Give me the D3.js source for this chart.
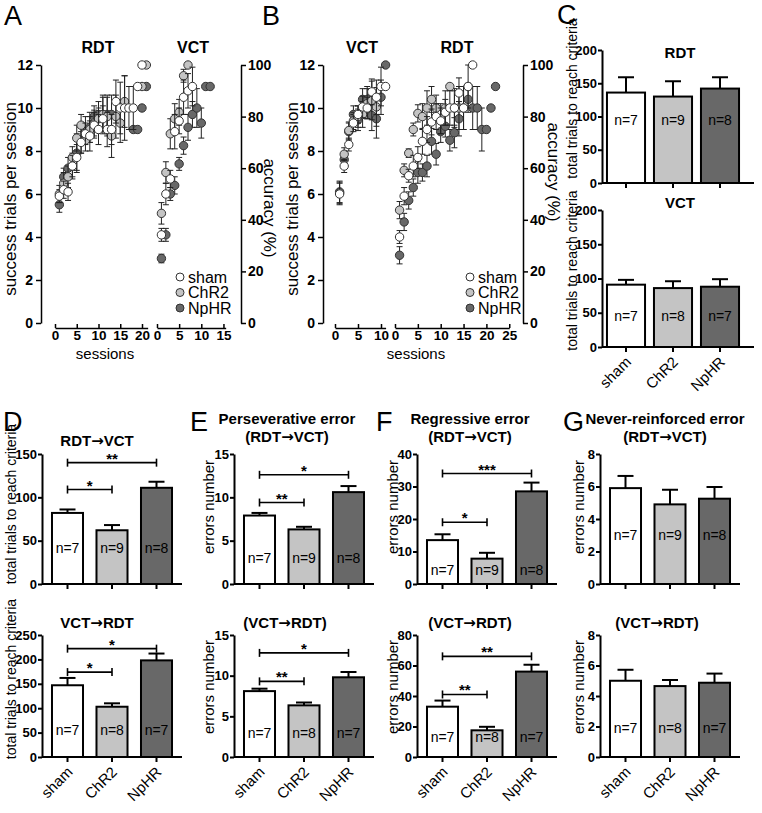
<!DOCTYPE html>
<html>
<head>
<meta charset="utf-8">
<script src="https://cdn.jsdelivr.net/npm/d3@7"></script>
<style>
  body { margin: 0; background: #fff; }
</style>
</head>
<body>
<svg id="fig" width="762" height="813"></svg>
<script>
var FONT = '"Liberation Sans", Arial, Helvetica, sans-serif';
var groups = ["sham", "ChR2", "NpHR"];
var fills = { sham: "#ffffff", ChR2: "#c4c4c4", NpHR: "#686868" };

// ---- panel A : RDT first, then VCT (success trials per session, session 1..n)
var aRdtSham     = [5.9, 6.2, 6.1, 7.3, 7.7, 8.4, 8.8, 8.7, 9.2, 9.0, 9.5, 9.0, 9.0, 10.3, 10.0, 10.0, 10.0, 10.0, 11.0, 12.0];
var aRdtShamSem  = [0.3, 0.4, 0.4, 0.5, 0.6, 0.5, 0.5, 0.7, 0.6, 0.7, 0.6, 0.8, 0.7, 1.0, 1.2, 1.5, 1.0, 1.0, 0, 0];
var aRdtChr2     = [6.0, 6.5, 6.8, 7.7, 8.6, 9.2, 8.5, 9.0, 9.3, 9.5, 9.7, 9.6, 8.7, 9.6, 9.3, 10.3, null, null, null, 11.0, 12.0];
var aRdtChr2Sem  = [0.4, 0.5, 0.5, 0.5, 0.6, 0.5, 0.5, 0.6, 0.6, 0.5, 0.8, 0.9, 1.0, 1.0, 0.9, 1.2, null, null, null, 0, 0];
var aRdtNphr     = [5.5, 6.8, 7.2, 7.3, 7.9, 8.5, 9.0, 9.1, 9.6, 9.7, 9.7, 9.7, 9.7, null, null, null, null, 9.0, 9.0, 10.0, 11.0];
var aRdtNphrSem  = [0.35, 0.4, 0.5, 0.6, 0.9, 0.6, 0.6, 0.7, 0.5, 0.6, 0.9, 0.9, 0.9, null, null, null, null, 0, 0, 0, 0];

var aVctSham     = [4.1, 6.0, 6.7, 8.9, 9.4, 10.5, 10.8, 11.0];
var aVctShamSem  = [0.3, 0.5, 0.4, 0.8, 0.6, 0.8, 0.8, 0.9];
var aVctChr2     = [5.1, 7.0, 8.8, 9.5, 9.8, 11.5, 12.0];
var aVctChr2Sem  = [0.5, 0.5, 0.7, 0.7, 0.6, 0.3, 0];
var aVctNphr     = [3.0, 4.1, 6.0, 6.4, 7.4, 8.25, 9.1, 9.7, 10.0, 9.3, 11.0, 11.0];
var aVctNphrSem  = [0.2, 0.3, 0.3, 0.4, 0.3, 0.4, 0.6, 0.6, 0.9, 0.7, 0, 0];

// ---- panel B : VCT first, then RDT
var bVctSham     = [6.0, 7.3, 8.3, 9.3, 9.7, 10.05, 10.0, 10.75, 10.5, 11.0, 11.0];
var bVctShamSem  = [0.5, 0.3, 0.3, 0.4, 0.4, 0.5, 0.5, 0.6, 0.8, 0.9, 0];
var bVctChr2     = [6.05, 7.85, 8.95, 9.4, 9.6, 9.7, 10.2, 10.35, 10.05];
var bVctChr2Sem  = [0.5, 0.3, 0.4, 0.4, 0.5, 0.6, 0.7, 0.9, 0.9];
var bVctNphr     = [6.1, 7.6, 8.9, 9.7, 9.45, 10.4, 10.4, 9.65, 9.5, 10.5, 12.0];
var bVctNphrSem  = [0.5, 0.3, 0.4, 0.4, 0.5, 0.5, 0.6, 0.7, 0.9, 0.8, 0];

var bRdtSham     = [4.0, 5.9, 6.85, 7.3, 7.7, 8.45, 9.0, 9.35, 9.6, 9.4, 9.8, 10.0, 10.0, 10.7, 10.0, 11.0, 12.0];
var bRdtShamSem  = [0.3, 0.4, 0.3, 0.5, 0.5, 0.6, 0.6, 0.6, 0.6, 0.6, 0.6, 0.8, 0.8, 0.7, 1.0, 1.0, 0];
var bRdtChr2     = [5.25, 7.1, 7.9, 9.0, 9.75, 9.6, 10.0, 10.4, 10.0, 9.5, 10.0, 11.0, 10.0, 10.0, 10.0, 11.0];
var bRdtChr2Sem  = [0.4, 0.3, 0.2, 0.3, 0.4, 0.6, 0.8, 0.6, 0.6, 0.7, 0.8, 0, 0.9, 1.0, 1.0, 0];
var bRdtNphr     = [3.15, 4.7, 5.7, 6.3, 7.0, 7.0, 7.3, 8.45, 7.85, 8.9, 9.15, 8.5, 8.85, 9.5, null, 10.4, 10.0, 10.0, 9.0, 9.0, 10.0, 11.0];
var bRdtNphrSem  = [0.4, 0.4, 0.4, 0.4, 0.5, 0.4, 0.5, 0.6, 0.5, 0.5, 0.5, 0.5, 0.7, 0.8, null, 0.6, 1.0, 1.0, 1.0, 0, 0, 0];

var successTicks  = [0, 2, 4, 6, 8, 10, 12];
var accuracyTicks = [0, 20, 40, 60, 80, 100];

// ---- bar charts: mean, sem, n per group (sham, ChR2, NpHR)
var cRdtMean = [136, 130, 142],  cRdtSem = [23, 23, 17],   cRdtN = [7, 9, 8];
var cVctMean = [91, 86, 88],     cVctSem = [7, 10, 11],    cVctN = [7, 8, 7];
var dRvMean  = [82, 62, 111],    dRvSem  = [4, 6, 7],      dRvN  = [7, 9, 8];
var dVrMean  = [147, 103, 198],  dVrSem  = [15, 7, 14],    dVrN  = [7, 8, 7];
var eRvMean  = [7.9, 6.3, 10.6], eRvSem  = [0.3, 0.3, 0.7], eRvN = [7, 9, 8];
var eVrMean  = [8.1, 6.35, 9.8], eVrSem  = [0.3, 0.35, 0.65], eVrN = [7, 8, 7];
var fRvMean  = [13.5, 7.8, 28.5], fRvSem = [1.8, 1.8, 2.7], fRvN = [7, 9, 8];
var fVrMean  = [33, 17.5, 56],   fVrSem  = [4, 2.3, 4.5],  fVrN  = [7, 8, 7];
var gRvMean  = [5.9, 4.9, 5.25], gRvSem  = [0.75, 0.9, 0.72], gRvN = [7, 9, 8];
var gVrMean  = [5.0, 4.65, 4.87], gVrSem = [0.72, 0.4, 0.6], gVrN = [7, 8, 7];

// significance brackets: [from group, to group, height in data units, stars]
var dRvSig = [[0, 1, 109, "*"], [0, 2, 140, "**"]];
var dVrSig = [[0, 1, 174, "*"], [0, 2, 222, "*"]];
var eRvSig = [[0, 1, 9.4, "**"], [0, 2, 12.6, "*"]];
var eVrSig = [[0, 1, 9.3, "**"], [0, 2, 12.8, "*"]];
var fRvSig = [[0, 1, 19, "*"], [0, 2, 34, "***"]];
var fVrSig = [[0, 1, 41, "**"], [0, 2, 66, "**"]];


var svg = d3.select("#fig");
svg.append("rect").attr("width", 762).attr("height", 813).attr("fill", "#fff");

function txt(x, y, s, size, weight, anchor, rot) {
  var t = svg.append("text")
    .attr("x", x).attr("y", y)
    .attr("text-anchor", anchor || "start")
    .style("font-family", FONT)
    .style("font-size", size + "px")
    .style("font-weight", weight || "normal");
  // titles with an arrow: draw the arrow in DejaVu so it is wide and heavy like the original
  var parts = s.split("\u2192");
  if (parts.length === 2) {
    t.append("tspan").text(parts[0]);
    t.append("tspan").style("font-family", '"DejaVu Sans", sans-serif').text("\u2192");
    t.append("tspan").text(parts[1]);
  } else {
    t.text(s);
  }
  if (rot) t.attr("transform", "rotate(" + rot + "," + x + "," + y + ")");
  return t;
}

function styleAxis(g, size, sw) {
  g.selectAll("path.domain").attr("stroke", "#000").attr("stroke-width", sw);
  g.selectAll(".tick line").attr("stroke", "#000").attr("stroke-width", sw);
  g.selectAll(".tick text").attr("fill", "#000")
    .style("font-family", FONT).style("font-size", size + "px").style("font-weight", "bold");
}

function series(m, e) {
  var out = [];
  m.forEach(function(v, i) { if (v != null) out.push({ s: i + 1, m: v, e: e[i] || 0 }); });
  return out;
}

function drawScatter(p) {
  var y = d3.scaleLinear().domain([0, 12]).range([323, 65]);
  var yAcc = d3.scaleLinear().domain([0, 100]).range([323, 65]);

  var gy = svg.append("g").attr("transform", "translate(" + p.yAxisX + ",0)")
    .call(d3.axisLeft(y).tickValues(successTicks).tickSize(5).tickSizeOuter(0).tickPadding(3));
  styleAxis(gy, 14, 1.5);

  var ga = svg.append("g").attr("transform", "translate(" + p.accAxisX + ",0)")
    .call(d3.axisRight(yAcc).tickValues(accuracyTicks).tickSize(5).tickSizeOuter(0).tickPadding(2));
  styleAxis(ga, 14, 1.5);

  txt(p.yLabelX, 199, "success trials per session", 17, "normal", "middle", -90);
  txt(p.accLabelX, p.accLabelY, "accuracy (%)", 17, "normal", "middle", 90);

  p.segments.forEach(function(seg) {
    var x = d3.scaleLinear().domain([0, seg.max]).range(seg.range);
    var gx = svg.append("g").attr("transform", "translate(0,328)")
      .call(d3.axisBottom(x).tickValues(seg.ticks).tickSize(-4).tickSizeOuter(0).tickPadding(2));
    styleAxis(gx, 13.5, 1.5);

    txt(seg.titleX, 53, seg.title, 16, "bold", "middle");

    ["NpHR", "ChR2", "sham"].forEach(function(gname) {
      var d = seg.data[gname];
      var g = svg.append("g");
      d.forEach(function(pt) {
        var cx = x(pt.s);
        if (pt.e > 0) {
          g.append("line").attr("x1", cx).attr("x2", cx)
            .attr("y1", y(pt.m - pt.e)).attr("y2", y(pt.m + pt.e))
            .attr("stroke", "#222").attr("stroke-width", 1);
          [pt.m - pt.e, pt.m + pt.e].forEach(function(v) {
            g.append("line").attr("x1", cx - 3).attr("x2", cx + 3)
              .attr("y1", y(v)).attr("y2", y(v))
              .attr("stroke", "#222").attr("stroke-width", 1);
          });
        }
      });
      g.selectAll("circle").data(d).enter().append("circle")
        .attr("cx", function(pt) { return x(pt.s); })
        .attr("cy", function(pt) { return y(pt.m); })
        .attr("r", 4.2)
        .attr("fill", fills[gname])
        .attr("stroke", "#333").attr("stroke-width", 1);
    });
  });

  txt(p.sessionsX, 359, "sessions", 15, "normal", "middle");

  groups.forEach(function(gname, i) {
    var ly = 277 + i * 15.5;
    svg.append("circle").attr("cx", p.legendX).attr("cy", ly).attr("r", 4)
      .attr("fill", fills[gname]).attr("stroke", "#333").attr("stroke-width", 1);
    txt(p.legendX + 8, ly + 5.5, gname, 16, "normal", "start");
  });
}

drawScatter({
  yAxisX: 41, accAxisX: 241, yLabelX: 16, accLabelX: 264, accLabelY: 208,
  legendX: 180, sessionsX: 105,
  segments: [
    { max: 21.3, range: [55, 55 + 21.3 * 4.35], ticks: [0, 5, 10, 15, 20], title: "RDT", titleX: 98,
      data: { sham: series(aRdtSham, aRdtShamSem), ChR2: series(aRdtChr2, aRdtChr2Sem), NpHR: series(aRdtNphr, aRdtNphrSem) } },
    { max: 15.5, range: [157, 157 + 15.5 * 4.43], ticks: [0, 5, 10, 15], title: "VCT", titleX: 193,
      data: { sham: series(aVctSham, aVctShamSem), ChR2: series(aVctChr2, aVctChr2Sem), NpHR: series(aVctNphr, aVctNphrSem) } }
  ]
});

drawScatter({
  yAxisX: 323, accAxisX: 523, yLabelX: 298, accLabelX: 548, accLabelY: 172,
  legendX: 470, sessionsX: 416,
  segments: [
    { max: 11, range: [335, 335 + 11 * 4.6], ticks: [0, 5, 10], title: "VCT", titleX: 362,
      data: { sham: series(bVctSham, bVctShamSem), ChR2: series(bVctChr2, bVctChr2Sem), NpHR: series(bVctNphr, bVctNphrSem) } },
    { max: 25, range: [395, 395 + 25 * 4.57], ticks: [0, 5, 10, 15, 20, 25], title: "RDT", titleX: 457,
      data: { sham: series(bRdtSham, bRdtShamSem), ChR2: series(bRdtChr2, bRdtChr2Sem), NpHR: series(bRdtNphr, bRdtNphrSem) } }
  ]
});

function drawBars(p) {
  var y = d3.scaleLinear().domain([0, p.max]).range([p.base, p.top]);
  var x = d3.scaleBand().domain(groups)
    .range([p.axisX + p.offset, p.axisX + p.offset + 3 * p.step])
    .paddingInner(p.pad).paddingOuter(p.pad / 2);

  // bars
  svg.append("g").selectAll("rect").data(groups).enter().append("rect")
    .attr("x", function(g) { return x(g); })
    .attr("y", function(g, i) { return y(p.mean[i]); })
    .attr("width", x.bandwidth())
    .attr("height", function(g, i) { return p.base - y(p.mean[i]); })
    .attr("fill", function(g) { return fills[g]; })
    .attr("stroke", "#000").attr("stroke-width", 2);

  // sem, upper side only
  groups.forEach(function(g, i) {
    var cx = x(g) + x.bandwidth() / 2;
    var top = y(p.mean[i] + p.sem[i]);
    svg.append("line").attr("x1", cx).attr("x2", cx).attr("y1", y(p.mean[i])).attr("y2", top)
      .attr("stroke", "#000").attr("stroke-width", 2);
    svg.append("line").attr("x1", cx - 8).attr("x2", cx + 8).attr("y1", top).attr("y2", top)
      .attr("stroke", "#000").attr("stroke-width", 2);
    txt(cx, p.base - p.nOff + 5, "n=" + p.n[i], 14, "normal", "middle");
  });

  var gy = svg.append("g").attr("transform", "translate(" + p.axisX + ",0)")
    .call(d3.axisLeft(y).ticks(p.max / p.tick).tickSize(4).tickSizeOuter(0).tickPadding(1));
  styleAxis(gy, 13, 2);

  svg.append("line").attr("x1", p.axisX).attr("x2", p.axisX + p.len)
    .attr("y1", p.base).attr("y2", p.base).attr("stroke", "#000").attr("stroke-width", 2);
  groups.forEach(function(g) {
    var cx = x(g) + x.bandwidth() / 2;
    svg.append("line").attr("x1", cx).attr("x2", cx).attr("y1", p.base).attr("y2", p.base + 5)
      .attr("stroke", "#000").attr("stroke-width", 2);
    if (p.cats) {
      txt(cx + 6, p.base + 16, g, 15, "normal", "end", -45);
    }
  });

  (p.sig || []).forEach(function(s) {
    var x1 = x(groups[s[0]]) + x.bandwidth() / 2;
    var x2 = x(groups[s[1]]) + x.bandwidth() / 2;
    var yy = y(s[2]);
    svg.append("line").attr("x1", x1).attr("x2", x2).attr("y1", yy).attr("y2", yy)
      .attr("stroke", "#000").attr("stroke-width", 1.6);
    [x1, x2].forEach(function(xx) {
      svg.append("line").attr("x1", xx).attr("x2", xx).attr("y1", yy - 4).attr("y2", yy + 4)
        .attr("stroke", "#000").attr("stroke-width", 1.6);
    });
    txt((x1 + x2) / 2, yy + 1, s[3], 15, "bold", "middle");
  });

  p.title.forEach(function(line, i) {
    txt(p.titleX, p.titleY + i * 18, line, 15, "bold", "middle");
  });

  txt(p.labelX, (p.base + p.top) / 2 + p.labelShift, p.label, p.labelSize || 15, "normal", "middle", -90);
}

var TRIAL = "total trials to reach criteria";
var ERR = "errors number";
var std = { offset: 3.25, step: 44.5, pad: 0.303, len: 140 };

function panel(extra) { return Object.assign({}, std, extra); }

// C
drawBars({ axisX: 602, offset: 0.5, step: 47, pad: 0.19, len: 152, top: 50, base: 183, max: 200, tick: 50,
  mean: cRdtMean, sem: cRdtSem, n: cRdtN, nOff: 63, cats: false,
  title: ["RDT"], titleX: 680, titleY: 58, label: TRIAL, labelX: 577, labelSize: 14, labelShift: -18 });
drawBars({ axisX: 602, offset: 0.5, step: 47, pad: 0.19, len: 152, top: 210, base: 347, max: 200, tick: 50,
  mean: cVctMean, sem: cVctSem, n: cVctN, nOff: 31, cats: true,
  title: ["VCT"], titleX: 680, titleY: 208, label: TRIAL, labelX: 577, labelSize: 14, labelShift: -8 });

// D
drawBars(panel({ axisX: 42, top: 454, base: 584, max: 150, tick: 50,
  mean: dRvMean, sem: dRvSem, n: dRvN, nOff: 36, sig: dRvSig, cats: false,
  title: ["RDT\u2192VCT"], titleX: 97, titleY: 446, label: TRIAL, labelX: 16, labelSize: 14, labelShift: -15 }));
drawBars(panel({ axisX: 42, top: 635, base: 757, max: 250, tick: 50,
  mean: dVrMean, sem: dVrSem, n: dVrN, nOff: 27, sig: dVrSig, cats: true,
  title: ["VCT\u2192RDT"], titleX: 97, titleY: 628, label: TRIAL, labelX: 16, labelSize: 14, labelShift: -17 }));

// E
drawBars(panel({ axisX: 234, top: 454, base: 584, max: 15, tick: 5,
  mean: eRvMean, sem: eRvSem, n: eRvN, nOff: 26, sig: eRvSig, cats: false,
  title: ["Perseverative error", "(RDT\u2192VCT)"], titleX: 287, titleY: 424, label: ERR, labelX: 214, labelShift: -12 }));
drawBars(panel({ axisX: 234, top: 635, base: 757, max: 15, tick: 5,
  mean: eVrMean, sem: eVrSem, n: eVrN, nOff: 24, sig: eVrSig, cats: true,
  title: ["(VCT\u2192RDT)"], titleX: 285, titleY: 628, label: ERR, labelX: 214, labelShift: -9 }));

// F
drawBars(panel({ axisX: 417, top: 454, base: 584, max: 40, tick: 10,
  mean: fRvMean, sem: fRvSem, n: fRvN, nOff: 14, sig: fRvSig, cats: false,
  title: ["Regressive error", "(RDT\u2192VCT)"], titleX: 470, titleY: 424, label: ERR, labelX: 398, labelShift: -12 }));
drawBars(panel({ axisX: 417, top: 635, base: 757, max: 80, tick: 20,
  mean: fVrMean, sem: fVrSem, n: fVrN, nOff: 20, sig: fVrSig, cats: true,
  title: ["(VCT\u2192RDT)"], titleX: 470, titleY: 628, label: ERR, labelX: 398, labelShift: -9 }));

// G
drawBars(panel({ axisX: 600, top: 454, base: 584, max: 8, tick: 2,
  mean: gRvMean, sem: gRvSem, n: gRvN, nOff: 49, cats: false,
  title: ["Never-reinforced error", "(RDT\u2192VCT)"], titleX: 665, titleY: 424, label: ERR, labelX: 584, labelShift: -12 }));
drawBars(panel({ axisX: 600, top: 635, base: 757, max: 8, tick: 2,
  mean: gVrMean, sem: gVrSem, n: gVrN, nOff: 29, cats: true,
  title: ["(VCT\u2192RDT)"], titleX: 657, titleY: 628, label: ERR, labelX: 584, labelShift: -9 }));

// panel letters
[["A", 4, 25], ["B", 262, 25], ["C", 557, 24], ["D", 3, 431], ["E", 190, 431], ["F", 376, 431], ["G", 563, 431]]
  .forEach(function(l) { txt(l[1], l[2], l[0], 27, "normal", "start"); });
</script>
</body>
</html>
